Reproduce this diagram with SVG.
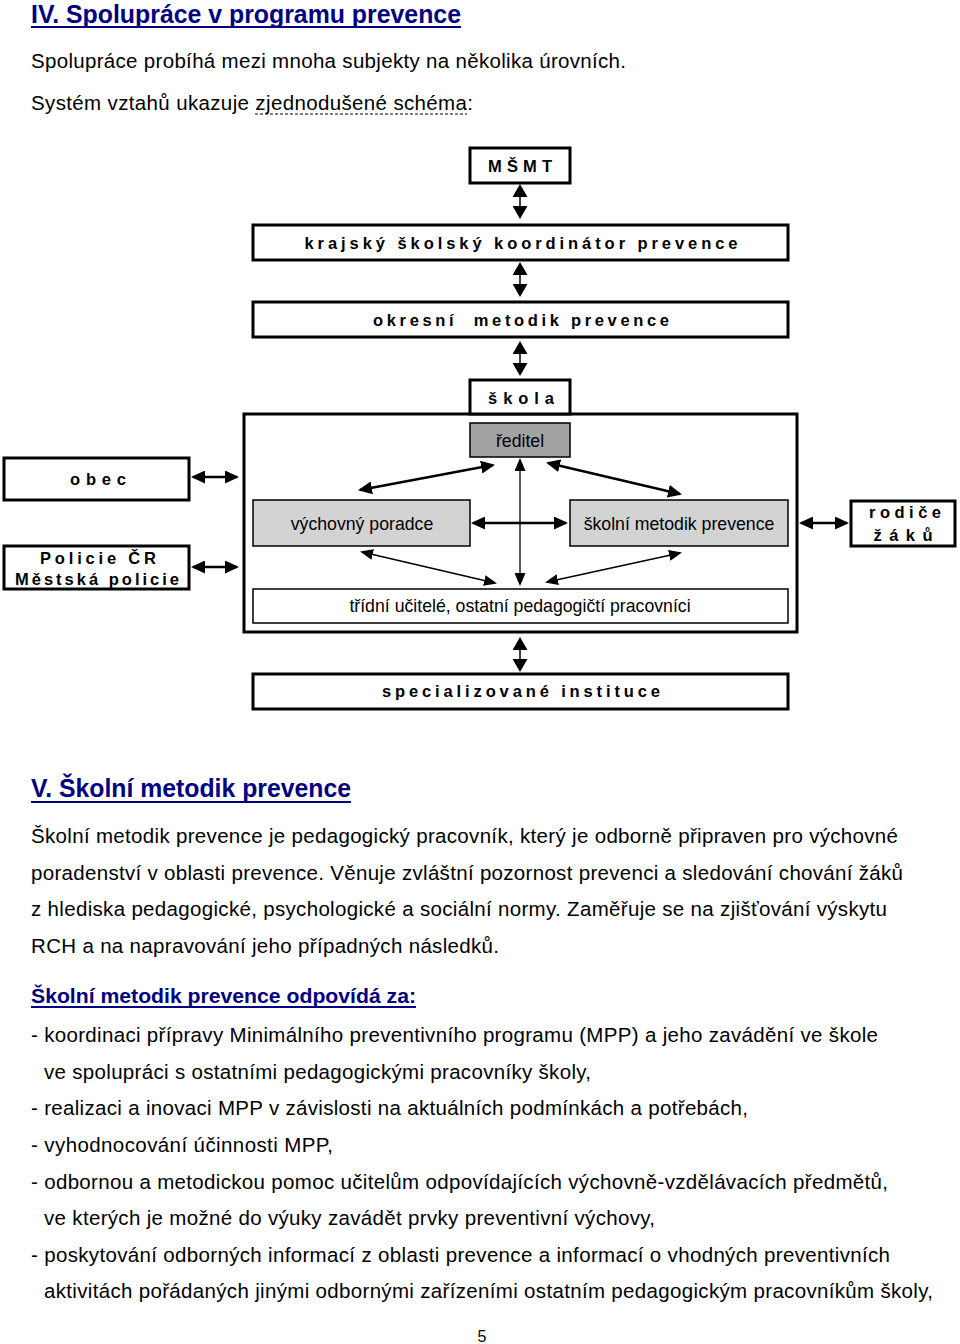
<svg xmlns="http://www.w3.org/2000/svg" width="960" height="1344" viewBox="0 0 960 1344">
<style>
text{font-family:"Liberation Sans",Arial,sans-serif;fill:#000}
.h1{font-size:25px;font-weight:bold;fill:#000080}
.h2{font-size:20px;font-weight:bold;fill:#000080}
.p{font-size:20.5px}
.b{font-size:16.5px;font-weight:bold;white-space:pre}
.n{font-size:17.7px}
.box{fill:#fff;stroke:#000;stroke-width:3}
.thin{fill:#fff;stroke:#000;stroke-width:1.5}
.g1{fill:#a3a3a3;stroke:#000;stroke-width:1.5}
.g2{fill:#d3d3d3;stroke:#000;stroke-width:1.5}
.ul{stroke:#000080;stroke-width:2}
.ck{fill:none;stroke:#000}
.tk{stroke-width:2.5;marker-start:url(#ah);marker-end:url(#ah)}
.tn{stroke-width:1.3;marker-start:url(#at);marker-end:url(#at)}
.vv{stroke-width:1.5;marker-start:url(#av);marker-end:url(#av)}
</style>
<defs>
<marker id="ah" markerUnits="userSpaceOnUse" markerWidth="14" markerHeight="13" refX="12" refY="6.5" orient="auto-start-reverse"><path d="M0,0 L14,6.5 L0,13 z" fill="#000"/></marker>
<marker id="at" markerUnits="userSpaceOnUse" markerWidth="13" markerHeight="11" refX="11" refY="5.5" orient="auto-start-reverse"><path d="M0,0 L13,5.5 L0,11 z" fill="#000"/></marker>
<marker id="av" markerUnits="userSpaceOnUse" markerWidth="13" markerHeight="15" refX="11" refY="7.5" orient="auto-start-reverse"><path d="M0,0 L13,7.5 L0,15 z" fill="#000"/></marker>
</defs>

<g id="header">
<text class="h1" x="31" y="23" textLength="430" lengthAdjust="spacingAndGlyphs">IV. Spolupráce v programu prevence</text>
<line class="ul" x1="31" y1="27" x2="461" y2="27"/>
<text class="p" x="31" y="68" textLength="595" lengthAdjust="spacing">Spolupráce probíhá mezi mnoha subjekty na několika úrovních.</text>
<text class="p" x="31" y="110" textLength="442" lengthAdjust="spacing">Systém vztahů ukazuje zjednodušené schéma:</text>
<line x1="255" y1="114" x2="467" y2="114" stroke="#000" stroke-width="1" stroke-dasharray="3,2"/>
</g>

<g id="big-school">
<rect class="box" x="244" y="414" width="553" height="218"/>
</g>
<g id="msmt"><rect class="box" x="470" y="148" width="100" height="35"/><text class="b" x="520" y="172" text-anchor="middle" textLength="64" lengthAdjust="spacing">MŠMT</text></g>
<g id="krajsky"><rect class="box" x="253" y="225" width="535" height="35"/><text class="b" x="521" y="249" text-anchor="middle" textLength="433" lengthAdjust="spacing">krajský školský koordinátor prevence</text></g>
<g id="okresni"><rect class="box" x="253" y="302" width="535" height="35"/><text class="b" x="521" y="326" text-anchor="middle" textLength="296" lengthAdjust="spacing">okresní  metodik prevence</text></g>
<g id="skola"><rect class="box" x="470" y="380" width="100" height="34"/><text class="b" x="521" y="404" text-anchor="middle" textLength="66" lengthAdjust="spacing">škola</text></g>
<g id="reditel"><rect class="g1" x="470" y="423" width="100" height="34"/><text class="n" x="520" y="447" text-anchor="middle">ředitel</text></g>
<g id="vychovny"><rect class="g2" x="253" y="500" width="217" height="46"/><text class="n" x="362" y="530" text-anchor="middle">výchovný poradce</text></g>
<g id="metodik"><rect class="g2" x="570" y="500" width="218" height="46"/><text class="n" x="679" y="530" text-anchor="middle">školní metodik prevence</text></g>
<g id="tridni"><rect class="thin" x="253" y="589" width="535" height="34"/><text class="n" x="520" y="612" text-anchor="middle">třídní učitelé, ostatní pedagogičtí pracovníci</text></g>
<g id="obec"><rect class="box" x="4" y="458" width="185" height="42"/><text class="b" x="98" y="485" text-anchor="middle" textLength="56" lengthAdjust="spacing">obec</text></g>
<g id="policie"><rect class="box" x="4" y="546" width="185" height="43"/><text class="b" x="98" y="564" text-anchor="middle" textLength="116" lengthAdjust="spacing">Policie ČR</text><text class="b" x="97" y="585" text-anchor="middle" textLength="164" lengthAdjust="spacing">Městská policie</text></g>
<g id="rodice"><rect class="box" x="851" y="501" width="104" height="45"/><text class="b" x="905" y="518" text-anchor="middle" textLength="72" lengthAdjust="spacing">rodiče</text><text class="b" x="903" y="541" text-anchor="middle" textLength="59" lengthAdjust="spacing">žáků</text></g>
<g id="specializovane"><rect class="box" x="253" y="674" width="535" height="35"/><text class="b" x="521" y="697" text-anchor="middle" textLength="278" lengthAdjust="spacing">specializované instituce</text></g>

<g id="connectors" class="ck">
<line class="vv" x1="520" y1="186" x2="520" y2="217"/>
<line class="vv" x1="520" y1="264" x2="520" y2="295"/>
<line class="vv" x1="520" y1="343" x2="520" y2="374"/>
<line class="vv" x1="520" y1="639" x2="520" y2="670"/>
<line class="tk" x1="193" y1="477" x2="237" y2="477"/>
<line class="tk" x1="193" y1="567" x2="237" y2="567"/>
<line class="tk" x1="801" y1="523" x2="847" y2="523"/>
<line class="tk" x1="473" y1="523" x2="566" y2="523"/>
<line class="tk" x1="493" y1="465" x2="360" y2="490"/>
<line class="tk" x1="548" y1="463" x2="680" y2="494"/>
<line class="tn" x1="520" y1="460" x2="520" y2="584"/>
<line class="tn" x1="362" y1="552" x2="495" y2="583"/>
<line class="tn" x1="680" y1="553" x2="547" y2="582"/>
</g>

<g id="section-v">
<text class="h1" x="31" y="797" textLength="320" lengthAdjust="spacingAndGlyphs">V. Školní metodik prevence</text>
<line class="ul" x1="31" y1="802" x2="351" y2="802"/>
<text class="p" x="31" y="843" textLength="867" lengthAdjust="spacing">Školní metodik prevence je pedagogický pracovník, který je odborně připraven pro výchovné</text>
<text class="p" x="31" y="880" textLength="872" lengthAdjust="spacing">poradenství v oblasti prevence. Věnuje zvláštní pozornost prevenci a sledování chování žáků</text>
<text class="p" x="31" y="916" textLength="856" lengthAdjust="spacing">z hlediska pedagogické, psychologické a sociální normy. Zaměřuje se na zjišťování výskytu</text>
<text class="p" x="31" y="953" textLength="468" lengthAdjust="spacing">RCH a na napravování jeho případných následků.</text>
<text class="h2" x="31" y="1003" textLength="385" lengthAdjust="spacingAndGlyphs">Školní metodik prevence odpovídá za:</text>
<line class="ul" x1="31" y1="1007" x2="416" y2="1007"/>
<text class="p" x="31" y="1042" textLength="847" lengthAdjust="spacing">- koordinaci přípravy Minimálního preventivního programu (MPP) a jeho zavádění ve škole</text>
<text class="p" x="44" y="1079" textLength="547" lengthAdjust="spacing">ve spolupráci s ostatními pedagogickými pracovníky školy,</text>
<text class="p" x="31" y="1115" textLength="717" lengthAdjust="spacing">- realizaci a inovaci MPP v závislosti na aktuálních podmínkách a potřebách,</text>
<text class="p" x="31" y="1152" textLength="302" lengthAdjust="spacing">- vyhodnocování účinnosti MPP,</text>
<text class="p" x="31" y="1189" textLength="857" lengthAdjust="spacing">- odbornou a metodickou pomoc učitelům odpovídajících výchovně-vzdělávacích předmětů,</text>
<text class="p" x="44" y="1225" textLength="611" lengthAdjust="spacing">ve kterých je možné do výuky zavádět prvky preventivní výchovy,</text>
<text class="p" x="31" y="1262" textLength="859" lengthAdjust="spacing">- poskytování odborných informací z oblasti prevence a informací o vhodných preventivních</text>
<text class="p" x="44" y="1298" textLength="889" lengthAdjust="spacing">aktivitách pořádaných jinými odbornými zařízeními ostatním pedagogickým pracovníkům školy,</text>
<text x="482" y="1342" font-size="16" text-anchor="middle">5</text>
</g>
</svg>
